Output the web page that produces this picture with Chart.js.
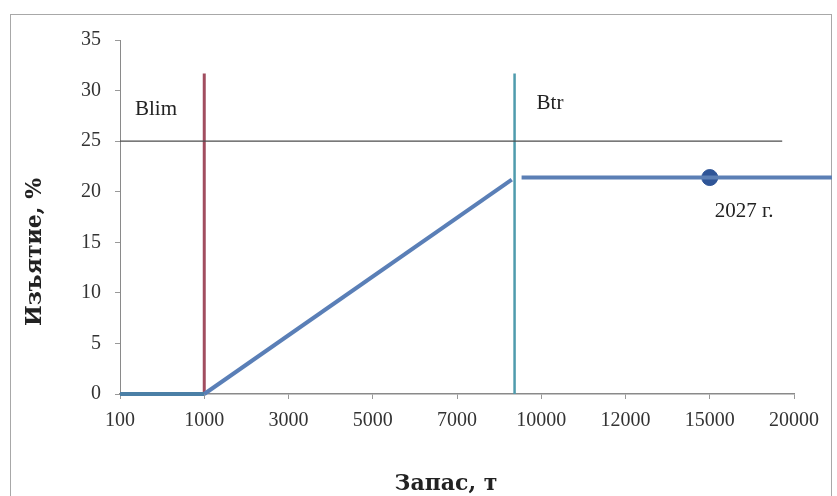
<!DOCTYPE html>
<html>
<head>
<meta charset="utf-8">
<script src="https://cdn.jsdelivr.net/npm/chart.js@4"></script>
<style>
  html, body { margin: 0; padding: 0; background: #fff; overflow: hidden; }
  #wrap { position: relative; width: 837px; height: 496px; }
  #frame { position: absolute; left: 10px; top: 14px; width: 822px; height: 520px; border: 1px solid #a8a8a8; box-sizing: border-box; pointer-events: none; }
  canvas { position: absolute; left: 0; top: 0; }
</style>
</head>
<body>
<div id="wrap">
  <div id="frame"></div>
  <canvas id="myChart" width="837" height="496"></canvas>
</div>
<script>
'use strict';

// Tick labels of the stock axis (evenly spaced, as in the original)
const stockTicks = [100, 1000, 3000, 5000, 7000, 10000, 12000, 15000, 20000];

// Reference points, stock in tonnes
const blim = 1000;
const btr = 9050;
const refTop = 31.7;        // top end of the vertical Blim / Btr lines
const ftr = 25;             // horizontal line level
const ftrEnd = 19300;

// Harvest rule, %
const zeroStock = [100, 1000];
const zeroRate = [0, 0];
const rampStock = [1000, 8950];
const rampRate = [0, 21.2];
const flatStock = [9300, 22250];
const flatRate = [21.4, 21.4];

// 2027 point
const pointStock = [15000];
const pointRate = [21.4];

// Stock (t) -> position on the evenly spaced tick axis
function stockPos(t) {
    const n = stockTicks.length;
    for (let i = 0; i < n - 1; i++) {
        if (t <= stockTicks[i + 1]) {
            return i + (t - stockTicks[i]) / (stockTicks[i + 1] - stockTicks[i]);
        }
    }
    return (n - 1) + (t - stockTicks[n - 1]) / (stockTicks[n - 1] - stockTicks[n - 2]);
}

function toPoints(xs, ys) {
    return xs.map((x, i) => ({ x: stockPos(x), y: ys[i] }));
}

function lineSet(data, color, width) {
    return {
        data: data,
        borderColor: color,
        backgroundColor: color,
        borderWidth: width,
        pointRadius: 0,
        fill: false,
        clip: false
    };
}

const serif = '"Liberation Serif", "DejaVu Serif", serif';
const wideSerif = '"DejaVu Serif", "Liberation Serif", serif';

// Text labels on the plot plus axis titles
const textPlugin = {
    id: 'texts',
    afterDraw(chart) {
        const ctx = chart.ctx;
        const xs = chart.scales.x;
        const ys = chart.scales.y;
        ctx.save();
        ctx.fillStyle = '#222';
        ctx.font = '21px ' + serif;
        ctx.textBaseline = 'middle';
        ctx.textAlign = 'left';
        ctx.fillText('Blim', xs.getPixelForValue(stockPos(100)) + 15, ys.getPixelForValue(28.1));
        ctx.fillText('Btr', xs.getPixelForValue(stockPos(btr)) + 22, ys.getPixelForValue(28.7));
        ctx.fillText('2027 г.', xs.getPixelForValue(stockPos(15000)) + 5, ys.getPixelForValue(18));

        ctx.font = 'bold 22px ' + wideSerif;
        ctx.textAlign = 'center';
        ctx.fillText('Запас, т', 446, 484);

        ctx.translate(35, 252);
        ctx.rotate(-Math.PI / 2);
        ctx.fillText('Изъятие, %', 0, 0);
        ctx.restore();
    }
};

function createChart() {
    const ctx = document.getElementById('myChart').getContext('2d');

    new Chart(ctx, {
        type: 'line',
        data: {
            datasets: [
                lineSet(toPoints([100, ftrEnd], [ftr, ftr]), '#4d4d4d', 1.2),
                lineSet(toPoints(zeroStock, zeroRate), '#4b7fa6', 4),
                lineSet(toPoints(rampStock, rampRate), '#5a7fb7', 4),
                lineSet(toPoints([blim, blim], [0, refTop]), '#a14d5f', 3),
                lineSet(toPoints([btr, btr], [0, refTop]), '#4f9bad', 2.5),
                lineSet(toPoints(flatStock, flatRate), '#5b7fb5', 4),
                {
                    data: toPoints(pointStock, pointRate),
                    showLine: false,
                    pointRadius: 8,
                    pointBackgroundColor: '#2f5597',
                    pointBorderColor: '#2f5597',
                    clip: false
                }
            ]
        },
        options: {
            responsive: false,
            animation: false,
            events: [],
            layout: { padding: { left: 0, right: 43, top: 40, bottom: 0 } },
            plugins: { legend: { display: false }, tooltip: { enabled: false } },
            scales: {
                x: {
                    type: 'linear',
                    min: 0,
                    max: stockTicks.length - 1,
                    afterFit(scale) { scale.height = 102; },
                    afterBuildTicks(scale) {
                        scale.ticks = stockTicks.map((t, i) => ({ value: i }));
                    },
                    ticks: {
                        callback: (v) => stockTicks[v],
                        font: { family: serif, size: 20 },
                        color: '#333',
                        padding: 10,
                        maxRotation: 0
                    },
                    grid: { drawOnChartArea: false, tickLength: 5, color: '#999' },
                    border: { color: '#8a8a8a', width: 1.5 }
                },
                y: {
                    min: 0,
                    max: 35,
                    afterFit(scale) { scale.width = 120; },
                    ticks: {
                        stepSize: 5,
                        font: { family: serif, size: 20 },
                        color: '#333',
                        padding: 14
                    },
                    grid: { drawOnChartArea: false, tickLength: 5, color: '#999' },
                    border: { color: '#8a8a8a', width: 1 }
                }
            }
        },
        plugins: [textPlugin]
    });
}

window.onload = createChart;
</script>
</body>
</html>
